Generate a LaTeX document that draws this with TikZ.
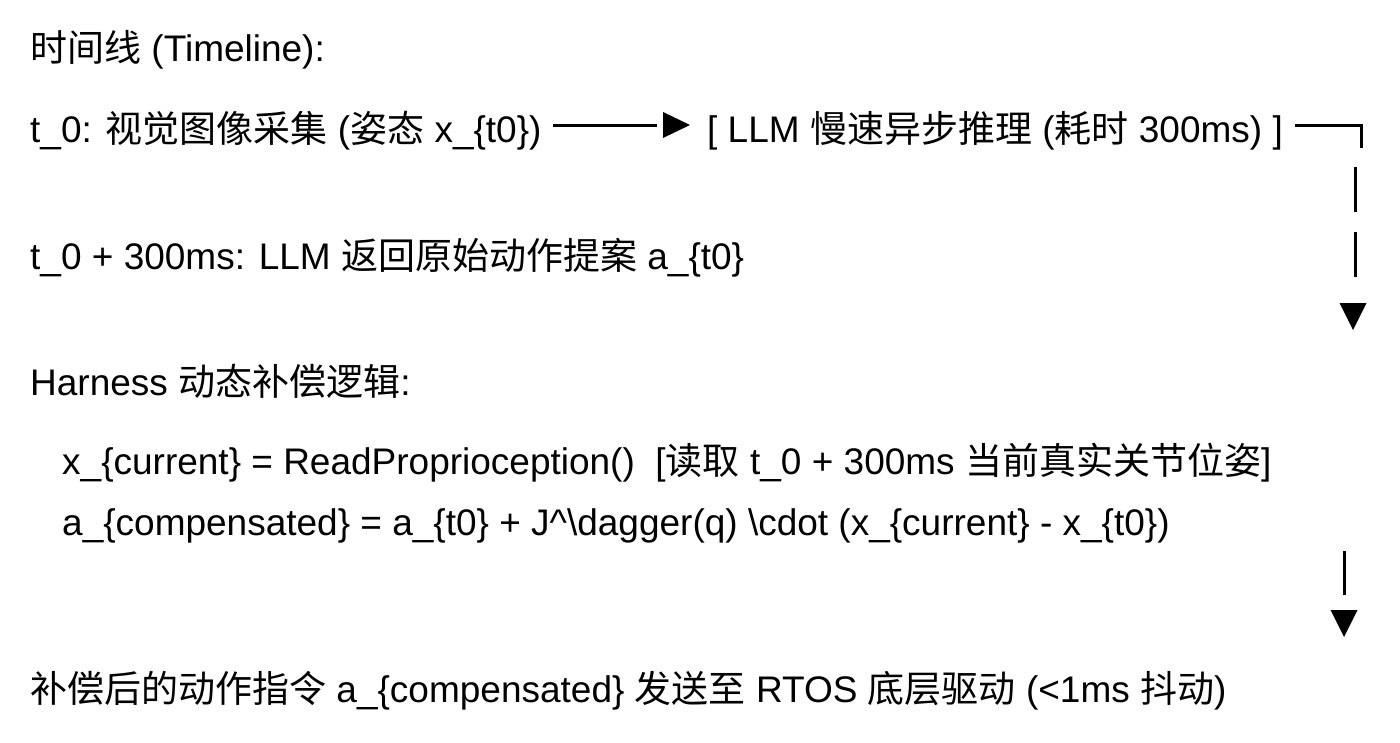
\documentclass[tikz,border=0pt]{standalone}
\usepackage{fontspec}
\setmainfont{Liberation Sans}
\newfontfamily\cjk{Noto Sans CJK SC}
\begin{document}
\begin{tikzpicture}[x=1pt,y=-1pt,
  txt/.style={anchor=base west,inner sep=0pt,font=\fontsize{37}{44}\selectfont},
  wire/.style={line width=3pt},
  tipfill/.style={fill=black}]
\useasboundingbox[fill=white] (0,0) rectangle (1400,742);
% text lines
\node[txt] (title) at (30,61) {{\cjk 时间线} (Timeline):};
\node[txt] (capture) at (30,142) {t\_0: {\cjk 视觉图像采集} ({\cjk 姿态} x\_\{t0\})};
\node[txt] (llm) at (707,142) {[ LLM {\cjk 慢速异步推理} ({\cjk 耗时} 300ms) ]};
\node[txt] (ret) at (30,269) {t\_0 + 300ms: LLM {\cjk 返回原始动作提案} a\_\{t0\}};
\node[txt] (harness) at (30,395) {Harness {\cjk 动态补偿逻辑}:};
\node[txt] (read) at (62,474) {x\_\{current\} = ReadProprioception()\ \ [{\cjk 读取} t\_0 + 300ms {\cjk 当前真实关节位姿}]};
\node[txt] (comp) at (62,535) {a\_\{compensated\} = a\_\{t0\} + J\textasciicircum\textbackslash dagger(q) \textbackslash cdot (x\_\{current\} - x\_\{t0\})};
\node[txt] (send) at (30,702) {{\cjk 补偿后的动作指令} a\_\{compensated\} {\cjk 发送至} RTOS {\cjk 底层驱动} (<1ms {\cjk 抖动})};
% horizontal arrow capture -> llm
\draw[wire] ([xshift=11pt,yshift=17pt]capture.base east) -- ([xshift=-50pt,yshift=17pt]llm.base west);
\fill[tipfill] ([xshift=-44pt,yshift=30pt]llm.base west) -- ([xshift=-17pt,yshift=17pt]llm.base west) -- ([xshift=-44pt,yshift=4pt]llm.base west) -- cycle;
% corner going down from llm
\coordinate (corner) at (1361,125);
\draw[wire] ([xshift=12pt,yshift=17pt]llm.base east) -- (corner) -- ++(0,23);
\coordinate (d1a) at (1355,167);
\coordinate (d1b) at (1355,212);
\coordinate (d2a) at (1355,232);
\coordinate (d2b) at (1355,277);
\draw[wire] (d1a) -- (d1b);
\draw[wire] (d2a) -- (d2b);
\coordinate (tipA) at (1353,330);
\fill[tipfill] (tipA) -- ++(-13.5,-27) -- ++(27,0) -- cycle;
% second down arrow
\coordinate (v1a) at (1344,551);
\coordinate (v1b) at (1344,595);
\draw[wire] (v1a) -- (v1b);
\coordinate (tipB) at (1344,637);
\fill[tipfill] (tipB) -- ++(-13.5,-27) -- ++(27,0) -- cycle;
\end{tikzpicture}
\end{document}
